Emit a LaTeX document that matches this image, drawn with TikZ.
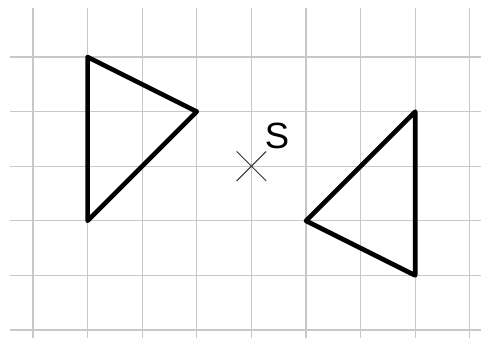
\documentclass[tikz,border=0pt]{standalone}
\usepackage{fontspec}
\setmainfont{Liberation Sans}
\usepackage{xcolor}
\usetikzlibrary{calc}
\definecolor{gridgray}{HTML}{C8C8C8}

\begin{document}
\begin{tikzpicture}[
    gridline/.style={draw=gridgray, line width=0.6pt},
    tri/.style={draw=black, line width=2.4pt, line join=round},
    cross/.style={draw=black!80, line width=0.5pt}
]
\useasboundingbox (-0.604,-0.147) rectangle (8.205,6.044);
% grid
\foreach \i in {0,...,8}
  \draw[gridline] (\i,-0.147) -- (\i,5.897);
\foreach \j in {0,...,5}
  \draw[gridline] (-0.42,\j) -- (8.205,\j);
% centre
\coordinate (S) at (4,3);
\draw[cross] ($(S)+(-0.27,-0.27)$) -- ($(S)+(0.27,0.27)$);
\draw[cross] ($(S)+(-0.27,0.27)$) -- ($(S)+(0.27,-0.27)$);
\node[font=\fontsize{19}{21}\selectfont, inner sep=0pt] (lblS) at (4.47,3.55) {S};
% triangles
\coordinate (A) at (1,5);
\coordinate (B) at (3,4);
\coordinate (C) at (1,2);
\draw[tri] (A) -- (B) -- (C) -- cycle;
\coordinate (A') at (7,1);
\coordinate (B') at (5,2);
\coordinate (C') at (7,4);
\draw[tri] (A') -- (B') -- (C') -- cycle;
\end{tikzpicture}
\end{document}
